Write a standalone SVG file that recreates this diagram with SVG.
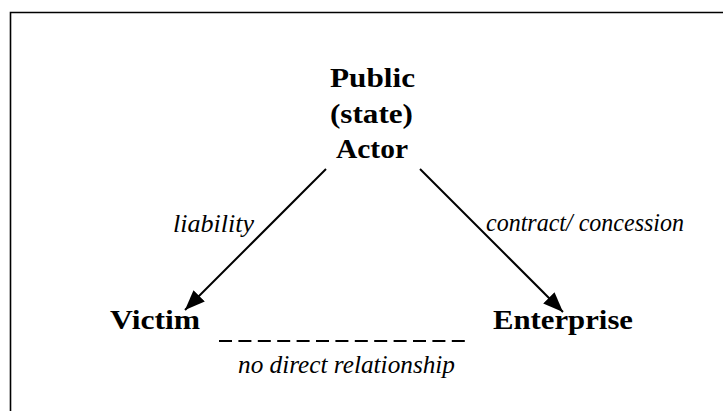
<svg xmlns="http://www.w3.org/2000/svg" width="723" height="411" viewBox="0 0 723 411">
<style>
.n{font-family:'Liberation Serif','Times New Roman',serif;font-weight:bold;font-size:27px;fill:#000}
.l{font-family:'Liberation Serif','Times New Roman',serif;font-style:italic;font-size:26px;fill:#000}
.e{stroke:#000;stroke-width:2;fill:none}
</style>
<defs>
<marker id="a" viewBox="0 0 20 16" refX="20" refY="8" markerWidth="20" markerHeight="16" markerUnits="userSpaceOnUse" orient="auto"><path d="M0,0 L20,8 L0,16 z" fill="#000"/></marker>
</defs>
<rect width="723" height="411" fill="#fff"/>
<path d="M10.5,411 V12.5 H723" stroke="#000" stroke-width="1.6" fill="none"/>
<g id="public">
<text class="n" font-family="Liberation Serif, serif" x="330" y="87" textLength="85" lengthAdjust="spacingAndGlyphs">Public</text>
<text class="n" font-family="Liberation Serif, serif" x="330" y="123" textLength="83" lengthAdjust="spacingAndGlyphs">(state)</text>
<text class="n" font-family="Liberation Serif, serif" x="336" y="158" textLength="72" lengthAdjust="spacingAndGlyphs">Actor</text>
</g>
<g id="victim"><text class="n" font-family="Liberation Serif, serif" x="110" y="329" textLength="90" lengthAdjust="spacingAndGlyphs">Victim</text></g>
<g id="enterprise"><text class="n" font-family="Liberation Serif, serif" x="493" y="329" textLength="140" lengthAdjust="spacingAndGlyphs">Enterprise</text></g>
<g id="connectors">
<line class="e" x1="326" y1="169" x2="185" y2="310" marker-end="url(#a)"/>
<line class="e" x1="420" y1="169" x2="563" y2="312" marker-end="url(#a)"/>
<line x1="219" y1="341" x2="467" y2="341" stroke="#000" stroke-width="2" stroke-dasharray="13,6.4"/>
<text class="l" font-family="Liberation Serif, serif" x="173" y="232" textLength="81" lengthAdjust="spacingAndGlyphs">liability</text>
<text class="l" font-family="Liberation Serif, serif" x="486" y="231" textLength="198" lengthAdjust="spacingAndGlyphs">contract/ concession</text>
<text class="l" font-family="Liberation Serif, serif" x="238" y="373" textLength="217" lengthAdjust="spacingAndGlyphs">no direct relationship</text>
</g>
</svg>
